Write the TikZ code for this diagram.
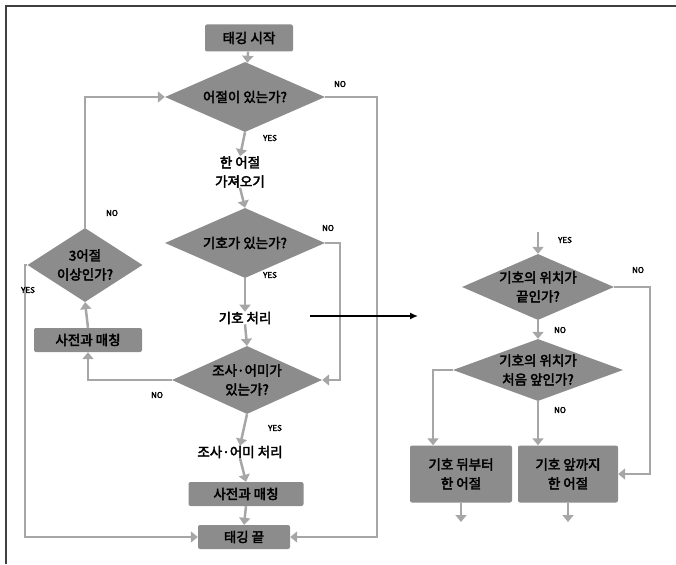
\documentclass[tikz,border=0pt]{standalone}
\usepackage{fontspec}
\newfontfamily\kr[AutoFakeBold=3]{Noto Sans CJK KR}
\usetikzlibrary{shapes.geometric,arrows.meta}
\begin{document}
\begin{tikzpicture}[x=1pt,y=-1pt,
  fillc/.style={fill=black!45},
  box/.style={rectangle, fillc, rounded corners=2pt, inner sep=0pt, font=\kr\bfseries\fontsize{13.5}{19}\selectfont, align=center},
  dia/.style={diamond, fillc, inner sep=0pt},
  txt/.style={font=\kr\bfseries\fontsize{13.5}{19}\selectfont, align=center, inner sep=0pt},
  lbl/.style={font=\kr\bfseries\fontsize{8}{9}\selectfont, inner sep=0pt},
  conn/.style={draw=black!35, line width=2.5pt, -{Triangle[width=11pt,length=7pt]}},
  blk/.style={draw=black, line width=1.5pt, -{Latex[length=8pt,width=7pt]}},
  ]
\useasboundingbox (0,0) rectangle (676,564);
\draw[black!75, line width=2pt] (6,564) -- (6,6) -- (676,6);

% main column
\node[box, minimum width=88, minimum height=27] (start) at (249,38) {태깅 시작};
\node[dia, minimum width=160, minimum height=70] (d1) at (245,97) {};
\node[txt] (d1t) at (245,97) {어절이 있는가?};
\node[txt] (take) at (240,172) {한 어절\\가져오기};
\node[dia, minimum width=160, minimum height=70] (d2) at (245,243) {};
\node[txt] (d2t) at (245,243) {기호가 있는가?};
\node[txt] (giho) at (245,318) {기호 처리};
\node[dia, minimum width=150, minimum height=68] (d5) at (247,380) {};
\node[txt] (d5t) at (247,380) {조사·어미가\\있는가?};
\node[txt] (josa) at (240,452) {조사·어미 처리};
\node[box, minimum width=115, minimum height=24] (dict) at (246,494) {사전과 매칭};
\node[box, minimum width=92, minimum height=24] (end) at (244,537) {태깅 끝};

% left column
\node[dia, minimum width=115, minimum height=74] (d3l) at (85,265) {};
\node[txt] (d3lt) at (85,265) {3어절\\이상인가?};
\node[box, minimum width=108, minimum height=24] (dictL) at (88,340) {사전과 매칭};

% right cluster
\node[dia, minimum width=152, minimum height=66] (d6) at (538,287) {};
\node[txt] (d6t) at (538,287) {기호의 위치가\\끝인가?};
\node[dia, minimum width=170, minimum height=62] (d7) at (538,370) {};
\node[txt] (d7t) at (538,370) {기호의 위치가\\처음 앞인가?};
\node[box, minimum width=102, minimum height=57] (b1) at (461,474) {기호 뒤부터\\한 어절};
\node[box, minimum width=100, minimum height=57] (b2) at (568,474) {기호 앞까지\\한 어절};

% coordinates
\coordinate (cl) at (25,537);
\coordinate (cr) at (377,537);
\coordinate (cr2) at (340,380);
\coordinate (bs) at (310,316);
\coordinate (be) at (418,316);
\coordinate (rtop) at (538,232);
\coordinate (cr3) at (650,474);
\coordinate (b1e) at (461,522);
\coordinate (b2e) at (568,522);

% main connectors
\draw[conn] (start) -- (d1);
\draw[conn] (d1.south) -- (take.north);
\draw[conn] (take.south) -- (d2.north);
\draw[conn] (d2.south) -- (giho.north);
\draw[conn] (giho.south) -- (d5.north);
\draw[conn] (d5.south) -- (josa.north);
\draw[conn] (josa.south) -- (dict.north);
\draw[conn] (dict.south) -- (end.north);
\draw[conn] (d1.east) -| (cr) -- (end.east);
\draw[conn] (d2.east) -| (cr2) -- (d5.east);
\draw[conn] (d5.west) -| (dictL.south);
\draw[conn] (dictL.north) -- (d3l.south);
\draw[conn] (d3l.north) |- (d1.west);
\draw[conn] (d3l.west) -| (cl) -- (end.west);
\draw[blk] (bs) -- (be);

% right connectors
\draw[conn] (rtop) -- (d6.north);
\draw[conn] (d6.south) -- (d7.north);
\draw[conn] (d6.east) -| (cr3) -- (b2.east);
\draw[conn] (d7.west) -| ([xshift=-28pt]b1.north);
\draw[conn] (d7.south) -- (d7.south |- b2.north);
\draw[conn] (b1.south) -- (b1e);
\draw[conn] (b2.south) -- (b2e);

% labels
\node[lbl] (l1) at (340,84) {NO};
\node[lbl] (l2) at (270,138) {YES};
\node[lbl] (l3) at (328,228) {NO};
\node[lbl] (l4) at (270,275) {YES};
\node[lbl] (l5) at (157,395) {NO};
\node[lbl] (l6) at (275,428) {YES};
\node[lbl] (l7) at (112,213) {NO};
\node[lbl] (l8) at (28,290) {YES};
\node[lbl] (l9) at (565,240) {YES};
\node[lbl] (l10) at (638,270) {NO};
\node[lbl] (l11) at (560,330) {NO};
\node[lbl] (l12) at (560,410) {NO};
\end{tikzpicture}
\end{document}
